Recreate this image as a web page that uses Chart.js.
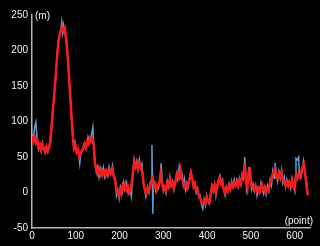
<!DOCTYPE html>
<html>
<head>
<meta charset="utf-8">
<script src="https://cdn.jsdelivr.net/npm/chart.js@4"></script>
<style>
  html, body { margin: 0; padding: 0; background: #000; }
  #wrap { width: 320px; height: 246px; }
</style>
</head>
<body>
<div id="wrap"><canvas id="chart"></canvas></div>
<script>
// smoothed track (red), one value every 3 points
const redY = [
  80,72,78,70,74,64,68,60,67,62,57,64,58,63,72,            // 0-42
  95,118,140,162,188,210,222,228,233,227,231,215,196,170,140,110,80,62,66, // 45-99
  57,61,50,55,59,62,68,63,72,69,      // 102
  76,72,76,66,40,33,27,34,25,31,      // 132
  26,30,24,30,26,32,28,33,24,19,      // 162
  8,0,-4,4,-2,10,6,12,4,8,            // 192
  0,3,14,30,43,36,42,35,41,34,        // 222
  28,12,4,-1,6,2,10,14,20,8,          // 252
  12,4,10,14,26,12,5,8,2,12,          // 282
  8,18,10,14,6,12,22,28,22,32,        // 312
  20,16,8,12,6,14,18,27,20,8,         // 342
  12,2,4,-4,-8,-14,-16,-11,-15,-7,    // 372
  -12,-14,-4,8,3,10,0,8,16,20,        // 402
  12,15,4,-1,6,2,9,5,12,8,            // 432
  14,10,15,10,17,12,22,28,36,14,      // 462
  6,30,32,12,8,4,9,2,6,1,             // 492
  8,12,4,7,0,5,3,12,16,24,            // 522
  30,34,22,20,27,22,28,18,15,10,      // 552
  14,9,15,10,16,8,4,24,20,26,         // 582
  22,28,36,40,26,10,-3                // 612-630
];
const redX = redY.map((_, i) => i * 3);

// raw track (blue)
const blueX = [0,3,6,9,12,15,18,21,24,27,30,33,36,40,45,50,55,60,63,66,68,70,72,75,78,80,85,90,95,98,
  102,106,109,112,116,120,124,128,132,136,139,141,144,147,150,153,156,160,163,166,170,173,176,180,184,187,190,193,196,199,
  202,206,209,212,216,220,224,227,230,233,236,239,242,245,248,251,254,257,260,264,267,270,273,274,275,276,277,280,283,286,
  289,292,295,297,300,303,306,309,312,315,318,321,324,327,330,333,336,339,342,345,348,351,354,357,360,363,366,369,372,375,
  378,381,384,387,390,393,396,399,402,405,408,411,414,417,420,423,426,429,432,435,438,441,444,447,450,453,456,459,462,465,
  468,471,474,477,480,483,486,488,490,493,496,499,502,505,508,511,514,517,520,523,526,529,532,535,538,541,544,547,550,553,
  555,558,561,564,567,570,573,576,579,582,585,588,591,594,597,600,602,603,606,609,611,614,617,620,623,626,628,630];
const blueY = [82,76,92,99,70,60,66,58,70,62,56,64,58,68,96,132,172,214,222,230,240,226,236,225,218,208,158,108,66,72,
  58,60,41,56,62,70,62,78,70,82,92,68,40,28,36,22,34,24,35,22,32,24,36,26,38,22,20,-4,4,-8,
  8,0,14,4,14,-2,4,-6,22,46,36,44,32,46,34,40,14,6,-6,8,0,14,18,67,20,-30,10,14,2,10,
  6,16,41,20,2,8,0,16,8,22,10,16,4,14,26,18,36,22,28,12,20,4,14,8,22,30,20,10,14,0,
  6,-6,-4,-16,-23,-10,-18,-4,-12,-16,-2,10,2,12,-4,10,18,24,14,18,4,-4,8,2,12,4,16,8,18,10,
  18,8,20,12,26,20,50,30,4,14,36,16,4,12,2,10,-4,6,0,14,6,-2,8,-2,10,2,18,10,30,20,
  42,28,16,30,20,32,14,22,8,18,10,16,6,20,10,2,24,48,46,50,22,20,30,44,30,16,2,-4];

// axis ticks
const yTicks = [-50, 0, 50, 100, 150, 200, 250];
const xTicks = [0, 100, 200, 300, 400, 500, 600];
const yUnit = "(m)";
const xUnit = "(point)";

const toPoints = (xs, ys) => xs.map((x, i) => ({ x: x, y: ys[i] }));

const textColor = "#f2f2f2";
const axisColor = "#b4b4b4";
const font = { family: "Liberation Sans", size: 10 };

// black canvas + unit labels
const decor = {
  id: "decor",
  beforeDraw(chart) {
    const { ctx } = chart;
    ctx.save();
    ctx.fillStyle = "#000";
    ctx.fillRect(0, 0, chart.width, chart.height);
    ctx.restore();
  },
  afterDraw(chart) {
    const { ctx, chartArea } = chart;
    ctx.save();
    ctx.fillStyle = textColor;
    ctx.font = "10px 'Liberation Sans'";
    ctx.textBaseline = "middle";
    ctx.textAlign = "left";
    ctx.fillText(yUnit, chartArea.left + 3, chartArea.top + 1);
    ctx.textAlign = "right";
    ctx.fillText(xUnit, chartArea.right + 3, chartArea.bottom - 7);
    ctx.restore();
  },
};

new Chart(document.getElementById("chart"), {
  type: "line",
  data: {
    datasets: [
      {
        label: "smooth",
        data: toPoints(redX, redY),
        borderColor: "#ff1a1a",
        borderWidth: 2.5,
        pointRadius: 0,
        tension: 0,
      },
      {
        label: "raw",
        data: toPoints(blueX, blueY),
        borderColor: "#5aa0d8",
        borderWidth: 1.5,
        pointRadius: 0,
        tension: 0,
      },
    ],
  },
  options: {
    responsive: true,
    maintainAspectRatio: false,
    animation: false,
    events: [],
    layout: { padding: { top: 15, right: 10, left: 0, bottom: 0 } },
    plugins: {
      legend: { display: false },
      tooltip: { enabled: false },
    },
    scales: {
      x: {
        type: "linear",
        min: 0,
        max: 635,
        afterFit: (scale) => { scale.height = 18; },
        afterBuildTicks: (scale) => {
          scale.ticks = xTicks.map((v) => ({ value: v }));
        },
        grid: { display: false, drawTicks: false },
        border: { display: true, color: axisColor, width: 1.5 },
        ticks: { color: textColor, font: font, padding: 2, maxRotation: 0 },
      },
      y: {
        min: -50,
        max: 250,
        afterFit: (scale) => { scale.width = 32; },
        afterBuildTicks: (scale) => {
          scale.ticks = yTicks.map((v) => ({ value: v }));
        },
        grid: { display: false, drawTicks: false },
        border: { display: true, color: axisColor, width: 1.5 },
        ticks: { color: textColor, font: font, padding: 4 },
      },
    },
  },
  plugins: [decor],
});
</script>
</body>
</html>
